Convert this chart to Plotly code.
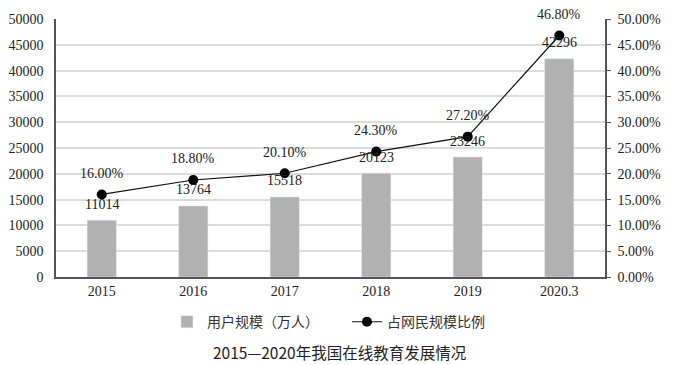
import plotly.graph_objects as go

categories = ["2015", "2016", "2017", "2018", "2019", "2020.3"]
users = [11014, 13764, 15518, 20123, 23246, 42296]
share = [16.0, 18.8, 20.1, 24.3, 27.2, 46.8]
left_ticks = [0, 5000, 10000, 15000, 20000, 25000, 30000, 35000, 40000, 45000, 50000]
right_ticks = [0, 5, 10, 15, 20, 25, 30, 35, 40, 45, 50]

serif = "Liberation Serif, Times New Roman, serif"
cjk = "Noto Sans CJK SC, sans-serif"

fig = go.Figure()
fig.add_trace(go.Bar(
    x=categories, y=users, name="用户规模（万人）",
    marker=dict(color="#b1b1b1"),
    width=0.32,
))
fig.add_trace(go.Scatter(
    x=categories, y=share, name="占网民规模比例", yaxis="y2",
    mode="lines+markers",
    line=dict(color="#111", width=1.2),
    marker=dict(color="#000", size=10),
    cliponaxis=False,
))

annotations = []
# category axis: annotation x given as category index
for i, v in enumerate(users):
    annotations.append(dict(x=i, y=v, xref="x", yref="y", text=str(v),
                            showarrow=False, yanchor="middle", yshift=16,
                            font=dict(family=serif, size=14, color="#222")))
for i, v in enumerate(share):
    annotations.append(dict(x=i, y=v, xref="x", yref="y2", text=f"{v:.2f}%",
                            showarrow=False, yanchor="middle", yshift=21,
                            font=dict(family=serif, size=14, color="#222")))
annotations.append(dict(
    text="2015—2020年我国在线教育发展情况", xref="paper", yref="paper",
    x=0.517, y=-0.29, yanchor="middle", xanchor="center", showarrow=False,
    font=dict(family=cjk, size=15.5, color="#222"),
))

fig.update_layout(
    width=680, height=365,
    margin=dict(l=48, r=83, t=11, b=96, autoexpand=False),
    paper_bgcolor="white", plot_bgcolor="white",
    showlegend=True,
    legend=dict(orientation="h", x=0.53, xanchor="center", y=-0.175, yanchor="middle",
                font=dict(family=cjk, size=14, color="#333"), traceorder="normal",
                entrywidth=135, entrywidthmode="pixels"),
    xaxis=dict(
        type="category", categoryorder="array", categoryarray=categories,
        range=[-0.5, len(categories) - 0.5],
        showline=True, linecolor="#555", linewidth=1.5, ticks="",
        tickfont=dict(family=serif, size=14, color="#222"),
        showgrid=False, automargin=False,
    ),
    yaxis=dict(
        range=[0, 50000], tickvals=left_ticks, tickformat="d",
        showline=True, linecolor="#555", linewidth=1.5,
        gridcolor="#dcdcdc", gridwidth=1.5,
        tickfont=dict(family=serif, size=14, color="#222"),
        zeroline=False, automargin=False, ticklabelstandoff=8,
    ),
    yaxis2=dict(
        range=[0, 50], tickvals=right_ticks,
        ticktext=[f"{v:.2f}%" for v in right_ticks],
        overlaying="y", side="right",
        showline=True, linecolor="#555", linewidth=1.5,
        ticks="outside", ticklen=4, tickcolor="#555",
        showgrid=False, zeroline=False, automargin=False, ticklabelstandoff=4,
        tickfont=dict(family=serif, size=14, color="#222"),
    ),
    annotations=annotations,
)

fig.write_html("out.html")
